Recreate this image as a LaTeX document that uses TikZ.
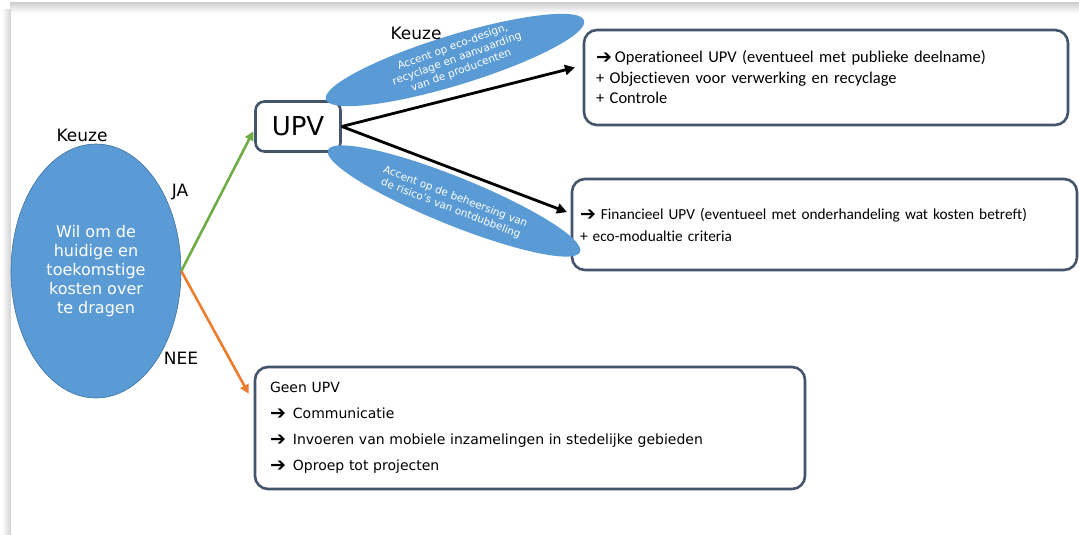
\documentclass[tikz,border=0pt]{standalone}
\usepackage{fontspec}
\setmainfont{DejaVu Sans}
\newfontfamily\calfont[RawFeature={-liga;-clig}]{Carlito}
\usetikzlibrary{arrows.meta,shapes.geometric}
\definecolor{ellblue}{HTML}{5B9BD5}
\definecolor{ellline}{HTML}{41719C}
\definecolor{boxline}{HTML}{44546A}
\definecolor{jagreen}{HTML}{70AD47}
\definecolor{neeorange}{HTML}{ED7D31}
\tikzset{
  bigell/.style={ellipse, fill=ellblue, draw=ellline, line width=0.6, inner sep=0},
  smallell/.style={ellipse, fill=ellblue, inner sep=0},
  elltext/.style={text=white, align=center, font=\fontsize{10.5}{12.5}\selectfont, inner sep=0},
  infobox/.style={draw=boxline, line width=2.6, rounded corners=13, fill=white, align=left},
  lbl/.style={font=\fontsize{17}{19}\selectfont, inner sep=0},
  conn/.style={line width=2.8, -{Triangle[length=10,width=10]}},
}
\newcommand{\barrow}{{\normalfont\fontsize{19}{15}\selectfont\raisebox{-1pt}{➔}}}
\begin{document}
\begin{tikzpicture}[x=1pt,y=-1pt]
\useasboundingbox (0,0) rectangle (1079,535);
\fill[white] (0,0) rectangle (1079,535);
% frame shadow
\shade[top color=black!18, bottom color=white] (10,3) rectangle (1079,13);
\shade[left color=white, right color=black!18] (2,10) rectangle (11,535);
\fill[white] (11,13) rectangle (1079,535);

% main choice ellipse
\node[bigell, minimum width=170, minimum height=254] (wil) at (96,271) {};
\node[text=white, align=center, font=\fontsize{16}{19}\selectfont] at (wil) {Wil om de\\huidige en\\toekomstige\\kosten over\\te dragen};
\node[lbl] (k1) at (82,135) {Keuze};
\node[lbl] (ja) at (180,192) {JA};
\node[lbl] (nee) at (181,358) {NEE};

% UPV box
\node[draw=boxline, line width=2.6, rounded corners=9, minimum width=85, minimum height=50,
      font=\fontsize{26}{28}\selectfont, inner sep=0] (upv) at (298,126.5) {UPV};

% result boxes
\node[infobox, minimum width=484, minimum height=95, text width=460, inner xsep=12,
      font=\calfont\fontsize{16.5}{20.5}\selectfont] (b1) at (826,77.5)
  {\barrow\hspace{3pt}Operationeel UPV (eventueel met publieke deelname)\\
   + Objectieven voor verwerking en recyclage\\
   + Controle};
\node[infobox, minimum width=505, minimum height=91, text width=489, inner xsep=8,
      font=\calfont\fontsize{15.3}{22}\selectfont] (b2) at (824.5,224.5)
  {\barrow\hspace{5pt}Financieel UPV (eventueel met onderhandeling wat kosten betreft)\\
   + eco-modualtie criteria};
\node[infobox, minimum width=550, minimum height=122, text width=520, inner xsep=15,
      font=\fontsize{14}{26}\selectfont] (b3) at (530,428)
  {Geen UPV\\
   \barrow\hspace{7pt}Communicatie\\
   \barrow\hspace{7pt}Invoeren van mobiele inzamelingen in stedelijke gebieden\\
   \barrow\hspace{7pt}Oproep tot projecten};

% connectors from choice
\coordinate (neeend) at ([xshift=-5,yshift=-28]b3.north west);
\draw[line width=2.6, jagreen, -{Triangle[length=9,width=9]}, shorten >=2] (wil.east) -- ([yshift=-3]upv.west);
\draw[line width=2.6, neeorange, -{Triangle[length=9,width=9]}] (wil.east) -- (neeend);

% black arrows from UPV
\draw[conn, shorten >=8] (upv.east) -- ([yshift=12]b1.west);
\draw[conn, shorten >=4] (upv.east) -- ([yshift=11]b2.west);

% small tilted ellipses
\node[smallell, minimum width=270, minimum height=50, rotate=17] (e1) at (455,60) {};
\node[elltext, rotate=20] at ([xshift=2,yshift=1]e1) {Accent op eco-design,\\recyclage en aanvaarding\\van de producenten};
\node[lbl] (k2) at (416,33) {Keuze};
\node[smallell, minimum width=272, minimum height=48, rotate=-22] (e2) at (454,201) {};
\node[elltext, rotate=-21] at ([xshift=-1,yshift=-2]e2) {Accent op de beheersing van\\de risico’s van ontdubbeling};
\end{tikzpicture}
\end{document}
